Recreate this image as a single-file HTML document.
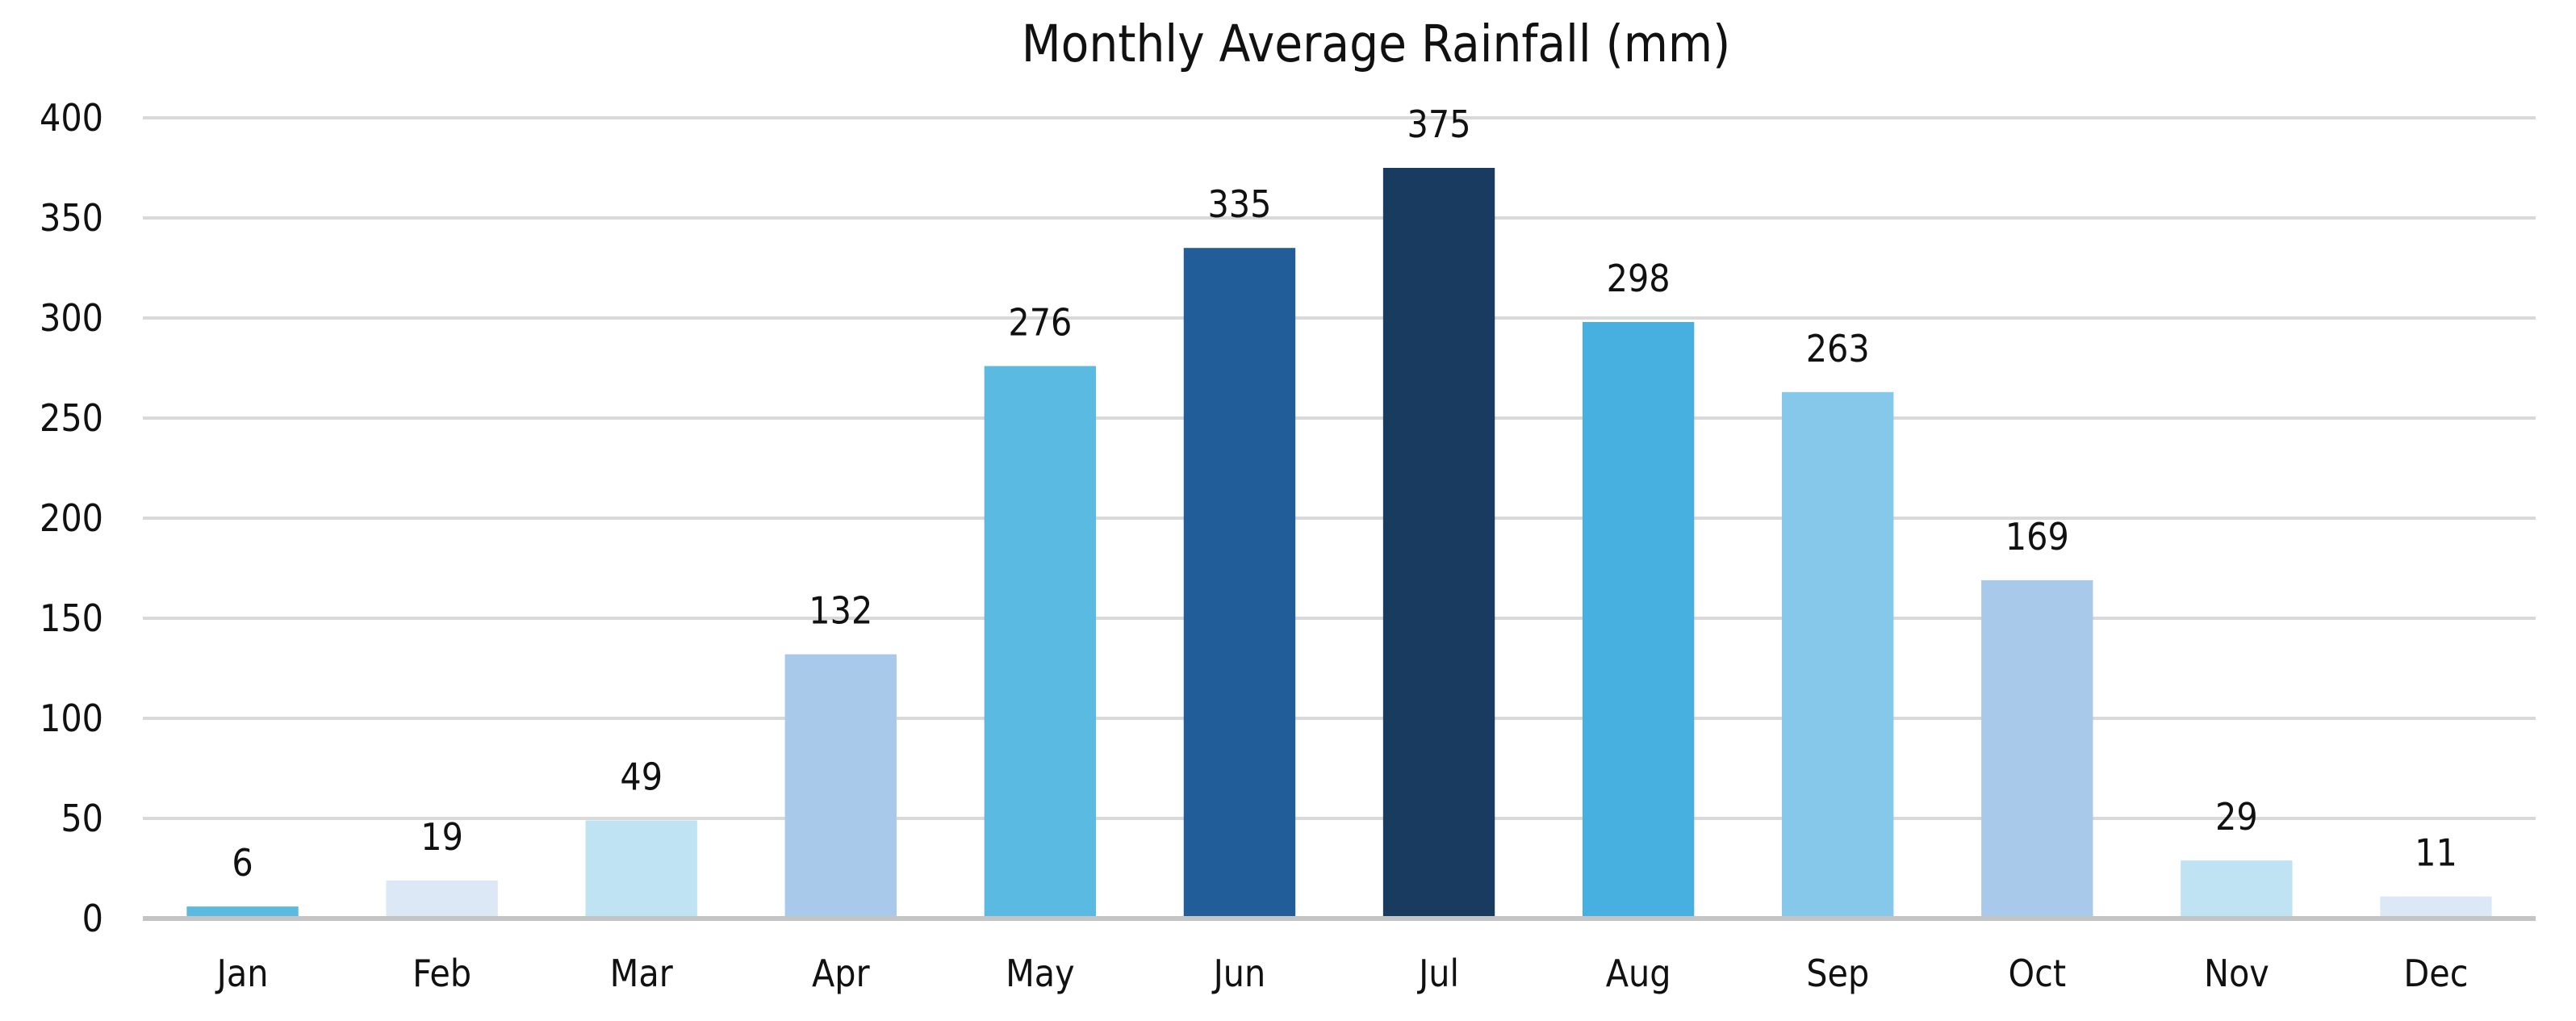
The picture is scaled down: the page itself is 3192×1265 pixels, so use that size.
<!DOCTYPE html>
<html><head><meta charset="utf-8"><style>
html,body{margin:0;padding:0;background:#fff;}
svg{display:block;}
text{font-family:"DejaVu Sans Condensed","Liberation Sans Narrow","Liberation Sans",sans-serif;fill:#111;}
</style></head><body>
<svg id="chart" width="3192" height="1265" viewBox="0 0 3192 1265" xmlns="http://www.w3.org/2000/svg">
<text x="1705" y="76" font-size="63" text-anchor="middle">Monthly Average Rainfall (mm)</text>
<g id="grid"></g><g id="bars"></g><g id="labels"></g>
</svg>
<script>
const categories = ["Jan","Feb","Mar","Apr","May","Jun","Jul","Aug","Sep","Oct","Nov","Dec"];
const rainfall = [6,19,49,132,276,335,375,298,263,169,29,11];
const barColors = ["#5bbae0","#dce8f5","#c0e3f3","#a9c9eb","#5bbae2","#215e99","#193b5f","#48b0e0","#85c8ea","#a9c9eb","#c0e3f3","#dce8f5"];
const yTicks = [0,50,100,150,200,250,300,350,400];

const NS = "http://www.w3.org/2000/svg";
const plotLeft = 177, plotRight = 3142, plotTop = 146, plotBottom = 1138, yMax = 400;
const band = (plotRight - plotLeft) / categories.length;
const barW = band * 0.56;
function yScale(v){ return plotBottom - (v / yMax) * (plotBottom - plotTop); }
function xCenter(i){ return plotLeft + band * (i + 0.5); }
function mk(tag, attrs, parent){
  const e = document.createElementNS(NS, tag);
  for (const k in attrs) e.setAttribute(k, attrs[k]);
  parent.appendChild(e); return e;
}
const gridG = document.getElementById('grid');
const barsG = document.getElementById('bars');
const labelsG = document.getElementById('labels');
yTicks.forEach(t => {
  const ln = mk('line', {x1:plotLeft, x2:plotRight, y1:yScale(t), y2:yScale(t), stroke: t===0 ? '#c4c4c4' : '#d9d9d9', 'stroke-width': t===0 ? 6 : 4}, gridG);
  
  
  const tx = mk('text', {x:128, y:yScale(t)+16, 'font-size':46, 'text-anchor':'end'}, labelsG);
  tx.textContent = t;
  
  
});
categories.forEach((c, i) => {
  const v = rainfall[i];
  const r = mk('rect', {x:xCenter(i)-barW/2, y:yScale(v), width:barW, height:Math.max(0, yScale(0)-yScale(v)-3), fill:barColors[i]}, barsG);
  
  
  const vl = mk('text', {x:xCenter(i), y:yScale(v)-38, 'font-size':46, 'text-anchor':'middle'}, labelsG);
  vl.textContent = v;
  
  
  const xl = mk('text', {x:xCenter(i), y:1222, 'font-size':46, 'text-anchor':'middle'}, labelsG);
  xl.textContent = c;
  
  
});
</script>
</body></html>
